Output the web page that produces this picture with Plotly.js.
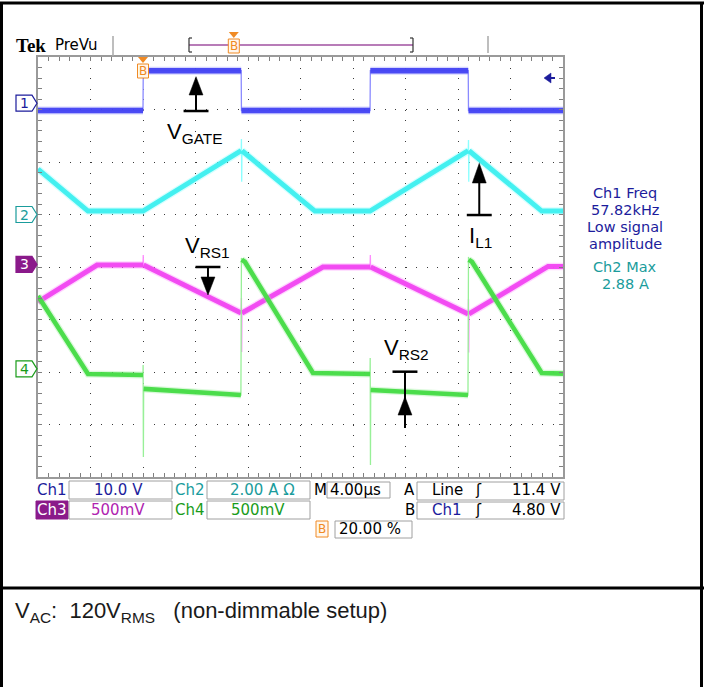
<!DOCTYPE html>
<html>
<head>
<meta charset="utf-8">
<script src="https://cdn.plot.ly/plotly-3.0.1.min.js"></script>
<style>
  html, body { margin: 0; padding: 0; background: #ffffff; }
  #scope { width: 707px; height: 687px; }
</style>
</head>
<body>
<div id="scope"></div>
<script>
// ---- acquisition settings ----
const timePerDiv = 4;                          // µs / div, 10 divisions
const channelScale = [10, 2, 500, 500];        // Ch1 V/div, Ch2 A/div, Ch3 mV/div, Ch4 mV/div
const channelPos = [3.12, 1.0, 0.05, -1.94];   // ground reference, divisions from centre
const channelColor = ['#4444f4', '#3ef0f0', '#f246f2', '#46dc46'];
const channelSpikeColor = ['#8a8aff', '#8cffff', '#ff8cff', '#98f098'];
const channelBand = [5.5, 5, 5, 4.6];          // trace band width, px
const markerColor = ['#1c1c9c', '#1a9c9c', '#8a1a8a', '#1a9c1a'];
const triggerLevelCh1 = 4.8;                   // V
const triggerPercent = 20;                     // horizontal trigger position, %

// ---- Ch1: gate voltage (V) ----
const ch1Time  = [0, 8.0, 8.02, 15.48, 15.5, 25.3, 25.32, 32.78, 32.8, 40];
const ch1Volts = [-1.4, -1.4, 6.2, 6.2, -1.4, -1.4, 6.2, 6.2, -1.4, -1.4];

// ---- Ch2: inductor current IL1 (A) ----
const ch2Time = [0, 3.81, 8.0, 15.48, 15.5, 15.52, 15.54, 21.1, 25.3, 32.78, 32.8, 32.82, 32.84, 38.38, 40];
const ch2Amps = [1.73, 0.13, 0.13, 2.43, 2.88, 1.25, 2.43, 0.13, 0.13, 2.43, 2.84, 1.25, 2.43, 0.13, 0.13];

// ---- Ch3: sense resistor RS1 (mV) ----
const ch3Time = [0, 4.5, 8.0, 8.02, 8.04, 15.48, 15.5, 15.52, 15.54, 21.71, 25.3, 25.32, 25.34, 32.78, 32.8, 32.82, 32.84, 38.86, 40];
const ch3mV   = [-358, -6, -6, 90, -6, -463, -320, -834, -463, -25, -25, 90, -25, -472, -330, -840, -472, -20, -20];

// ---- Ch4: sense resistor RS2 (mV) ----
const ch4Time = [0, 3.81, 8.0, 8.01, 8.03, 8.05, 15.46, 15.5, 15.52, 15.77, 20.95, 25.3, 25.31, 25.33, 25.35, 32.76, 32.8, 32.82, 33.07, 38.38, 40];
const ch4mV   = [694, -49, -58, 37, -839, -191, -249, 1056, 1040, 1018, -39, -49, 104, -915, -201, -249, 1066, 1040, 1018, -39, -45];

// ---- readouts ----
const measureLines = ['Ch1 Freq', '57.82kHz', 'Low signal', 'amplitude'];
const ch2MaxLabel = 'Ch2 Max';

// ---- page geometry (px) ----
const W = 707, H = 687, L = 38, R = 144, T = 57, B = 210;
const PW = W - L - R, PH = H - T - B;
const px = x => (x - L) / PW;             // page px -> paper x
const py = y => (T + PH - y) / PH;        // page px -> paper y
const UI = 'DejaVu Sans, Verdana, sans-serif';
const ARIAL = 'Liberation Sans, Arial, sans-serif';

// Noisy band for the slow parts of a trace, leaving fast edges as thin lines
function band(t, v) {
  const bt = [], bv = [];
  for (let i = 0; i < t.length; i++) {
    bt.push(t[i]); bv.push(v[i]);
    if (i < t.length - 1 && t[i + 1] - t[i] < 0.1) { bt.push(null); bv.push(null); }
  }
  return [bt, bv];
}

const series = [
  [ch1Time, ch1Volts], [ch2Time, ch2Amps], [ch3Time, ch3mV], [ch4Time, ch4mV]
];
const drawOrder = [3, 1, 2, 0];
const traces = [];
drawOrder.forEach(i => {
  const [t, v] = series[i];
  const ax = 'y' + (i + 2);
  traces.push({ x: t, y: v, yaxis: ax, mode: 'lines', hoverinfo: 'skip',
    line: { color: channelSpikeColor[i], width: 1.3 } });
  const [bt, bv] = band(t, v);
  traces.push({ x: bt, y: bv, yaxis: ax, mode: 'lines', hoverinfo: 'skip',
    line: { color: channelSpikeColor[i], width: channelBand[i] + 2.5 }, opacity: 0.35 });
  traces.push({ x: bt, y: bv, yaxis: ax, mode: 'lines', hoverinfo: 'skip',
    line: { color: channelColor[i], width: channelBand[i] }, opacity: 0.95 });
});

// ---- graticule ----
const gridCommon = {
  showgrid: true, gridcolor: '#3a3a3a', gridwidth: 1, griddash: '1px,9.5px',
  zeroline: false, showticklabels: false, fixedrange: true,
  ticks: 'inside', ticklen: 4, tickcolor: '#808080', tickwidth: 1,
  showline: true, linecolor: '#9a9a9a', linewidth: 2, mirror: 'allticks'
};
const layout = {
  width: W, height: H, margin: { l: L, r: R, t: T, b: B, pad: 0 },
  paper_bgcolor: '#ffffff', plot_bgcolor: '#ffffff', showlegend: false,
  xaxis: Object.assign({}, gridCommon, { range: [0, 10 * timePerDiv], tick0: 0, dtick: timePerDiv,
    minor: { dtick: timePerDiv / 5, ticks: 'inside', ticklen: 4, tickcolor: '#808080', showgrid: false } }),
  yaxis: Object.assign({}, gridCommon, { range: [-4, 4], tick0: 0, dtick: 1,
    minor: { dtick: 0.2, ticks: 'inside', ticklen: 4, tickcolor: '#808080', showgrid: false } }),
  // centre cross tick marks
  xaxis2: { overlaying: 'x', anchor: 'free', position: 0.5, side: 'bottom', range: [0, 10 * timePerDiv],
    tick0: 0, dtick: timePerDiv / 5, ticks: 'outside', ticklen: 3, tickcolor: '#808080',
    showgrid: false, zeroline: false, showline: false, showticklabels: false, fixedrange: true },
  xaxis3: { overlaying: 'x', anchor: 'free', position: 0.5, side: 'top', range: [0, 10 * timePerDiv],
    tick0: 0, dtick: timePerDiv / 5, ticks: 'outside', ticklen: 3, tickcolor: '#808080',
    showgrid: false, zeroline: false, showline: false, showticklabels: false, fixedrange: true },
  yaxis6: { overlaying: 'y', anchor: 'free', position: 0.5, side: 'left', range: [-4, 4],
    tick0: 0, dtick: 0.2, ticks: 'outside', ticklen: 3, tickcolor: '#808080',
    showgrid: false, zeroline: false, showline: false, showticklabels: false, fixedrange: true },
  yaxis7: { overlaying: 'y', anchor: 'free', position: 0.5, side: 'right', range: [-4, 4],
    tick0: 0, dtick: 0.2, ticks: 'outside', ticklen: 3, tickcolor: '#808080',
    showgrid: false, zeroline: false, showline: false, showticklabels: false, fixedrange: true },
  shapes: [], annotations: []
};
// per-channel vertical scales
channelScale.forEach((s, i) => {
  layout['yaxis' + (i + 2)] = { overlaying: 'y', visible: false, fixedrange: true,
    range: [(-4 - channelPos[i]) * s, (4 - channelPos[i]) * s] };
});

const S = layout.shapes, A = layout.annotations;
function line(x0, y0, x1, y1, color, width) {
  S.push({ type: 'line', xref: 'paper', yref: 'paper', x0: px(x0), y0: py(y0), x1: px(x1), y1: py(y1),
    line: { color, width } });
}
function rect(x0, y0, x1, y1, color, fill) {
  S.push({ type: 'rect', xref: 'paper', yref: 'paper', x0: px(x0), y0: py(y0), x1: px(x1), y1: py(y1),
    line: { color, width: 1 }, fillcolor: fill || 'rgba(0,0,0,0)' });
}
function text(s, x, y, color, anchor, size, family, extra) {
  A.push(Object.assign({ xref: 'paper', yref: 'paper', x: px(x), y: py(y), xanchor: anchor || 'left',
    yanchor: 'middle', text: s, showarrow: false, borderpad: 0,
    font: { family: family || UI, size: size || 15, color } }, extra || {}));
}

// ---- outer frame ----
line(0, 3, 704, 3, '#000', 3);
line(1.5, 3, 1.5, 687, '#000', 3);
line(701.5, 3, 701.5, 687, '#000', 3);
line(0, 588, 704, 588, '#000', 3);

// ---- header ----
text('Tek', 15, 45, '#000', 'left', 19, 'Liberation Serif, serif', { font: { family: 'Liberation Serif, serif', size: 19, color: '#000', weight: 700 } });
text('PreVu', 54, 45, '#000', 'left', 15);
line(113, 36, 113, 56, '#a8a8a8', 1.5);
line(488, 36, 488, 53, '#a8a8a8', 1.5);
const barL = 189, barR = 413;
line(barL, 45, barR, 45, '#a050a0', 1.5);
line(barL, 38, barL, 52, '#333', 1.2); line(barL, 38, barL + 3, 38, '#333', 1.2); line(barL, 52, barL + 3, 52, '#333', 1.2);
line(barR, 38, barR, 52, '#333', 1.2); line(barR, 38, barR - 3, 38, '#333', 1.2); line(barR, 52, barR - 3, 52, '#333', 1.2);
const orange = '#f08a24';
function trigMark(xc, yTop) {
  S.push({ type: 'path', xref: 'paper', yref: 'paper', path:
    `M ${px(xc - 5)},${py(yTop)} L ${px(xc + 5)},${py(yTop)} L ${px(xc)},${py(yTop + 6)} Z`,
    fillcolor: orange, line: { color: orange, width: 0 } });
  rect(xc - 5.5, yTop + 7, xc + 5.5, yTop + 21, orange, '#fff7ee');
  text('B', xc, yTop + 14, orange, 'center', 12);
}
trigMark(barL + (barR - barL) * triggerPercent / 100, 32);
trigMark(L + PW * triggerPercent / 100, 57);

// ---- channel ground markers ----
channelPos.forEach((p, i) => {
  const yp = (p + 4) / 8;
  const filled = (i === 2);
  S.push({ type: 'path', xref: 'paper', yref: 'paper', xsizemode: 'pixel', ysizemode: 'pixel',
    xanchor: 0, yanchor: yp, path: 'M -22,-8 L -6,-8 L -1,0 L -6,8 L -22,8 Z',
    fillcolor: filled ? markerColor[i] : '#ffffff', line: { color: markerColor[i], width: 1.2 } });
  A.push({ xref: 'paper', yref: 'paper', x: px(L - 14), y: yp, xanchor: 'center', yanchor: 'middle',
    text: String(i + 1), showarrow: false, font: { family: UI, size: 14, color: filled ? '#ffffff' : markerColor[i] } });
});

// ---- Ch1 trigger level arrow ----
{
  const yp = (channelPos[0] + triggerLevelCh1 / channelScale[0] + 4) / 8;
  S.push({ type: 'path', xref: 'paper', yref: 'paper', xsizemode: 'pixel', ysizemode: 'pixel',
    xanchor: 1, yanchor: yp, path: 'M -19,0 L -12,-5 L -12,5 Z', fillcolor: markerColor[0],
    line: { color: markerColor[0], width: 0.5 } });
  S.push({ type: 'path', xref: 'paper', yref: 'paper', xsizemode: 'pixel', ysizemode: 'pixel',
    xanchor: 1, yanchor: yp, path: 'M -13,0 L -8,0', line: { color: markerColor[0], width: 2 } });
}

// ---- waveform callouts (µs, divisions) ----
function callout(t, vBar, vEnd, vBase, vTip, label, lt, lv) {
  const hb = 0.95, hh = 0.53;
  S.push({ type: 'line', xref: 'x', yref: 'y', x0: t, x1: t, y0: vBar, y1: vEnd, line: { color: '#000', width: 2 } });
  S.push({ type: 'line', xref: 'x', yref: 'y', x0: t - hb, x1: t + hb, y0: vBar, y1: vBar, line: { color: '#000', width: 2.5 } });
  S.push({ type: 'path', xref: 'x', yref: 'y', path: `M ${t - hh},${vBase} L ${t + hh},${vBase} L ${t},${vTip} Z`,
    fillcolor: '#000', line: { color: '#000', width: 0.5 } });
  A.push({ xref: 'x', yref: 'y', x: lt, y: lv, xanchor: 'center', yanchor: 'middle', text: label,
    showarrow: false, font: { family: ARIAL, size: 22, color: '#000' } });
}
callout(12.04, 2.971, 3.276, 3.276, 3.625, 'V<sub>GATE</sub>', 11.89, 2.55);
callout(12.95, 0.0, -0.19, -0.19, -0.533, 'V<sub>RS1</sub>', 12.88, 0.38);
callout(33.62, 0.99, 1.6, 1.6, 1.975, 'I<sub>L1</sub>', 33.68, 0.57);
callout(27.96, -1.994, -3.067, -2.82, -2.47, 'V<sub>RS2</sub>', 28.04, -1.56);

// ---- measurement readouts ----
measureLines.forEach((s, k) => text(s, 625, 193 + k * 17, markerColor[0], 'center', 14.5));
text(ch2MaxLabel, 625, 267, markerColor[1], 'center', 14.5);
text(Math.max(...ch2Amps).toFixed(2) + ' A', 625, 284, markerColor[1], 'center', 14.5);

// ---- status bar ----
const boxLine = '#a0a0a0';
text('Ch1', 36, 490, markerColor[0]);
rect(69, 481, 172, 499, boxLine); text('10.0 V', 118, 490, markerColor[0], 'center');
text('Ch2', 174, 490, markerColor[1]);
rect(207, 481, 310, 499, boxLine); text('2.00 A Ω', 262, 490, markerColor[1], 'center');
text('M', 313, 490, '#000');
rect(327, 482, 390, 498, boxLine); text('4.00µs', 329, 490, '#000');
text('A', 416, 490, '#000', 'right');
rect(417, 482, 564, 500, boxLine);
text('Line', 431, 490, '#000'); text('ʃ', 478, 490, '#000', 'center'); text('11.4 V', 562, 490, '#000', 'right');

rect(36, 501, 68, 519, markerColor[2], markerColor[2]); text('Ch3', 36, 510, '#ffffff');
rect(69, 501, 172, 519, boxLine); text('500mV', 118, 510, '#b024b0', 'center');
text('Ch4', 174, 510, markerColor[3]);
rect(207, 501, 310, 519, boxLine); text('500mV', 258, 510, markerColor[3], 'center');
text('B', 416, 510, '#000', 'right');
rect(417, 502, 564, 519, boxLine);
text('Ch1', 431, 510, markerColor[0]); text('ʃ', 478, 510, '#000', 'center'); text('4.80 V', 562, 510, '#000', 'right');

rect(316, 521, 328, 537, orange, '#fff7ee'); text('B', 322, 529, orange, 'center', 12);
rect(335, 521, 412, 538, boxLine); text(triggerPercent.toFixed(2) + ' %', 338, 529, '#000');

// ---- caption ----
text('V<sub>AC</sub>:\u00a0\u00a0120V<sub>RMS</sub>\u00a0\u00a0\u00a0(non-dimmable setup)', 14, 612, '#1a1a1a', 'left', 22, ARIAL);

Plotly.newPlot('scope', traces, layout, { staticPlot: true, displayModeBar: false });
</script>
</body>
</html>
